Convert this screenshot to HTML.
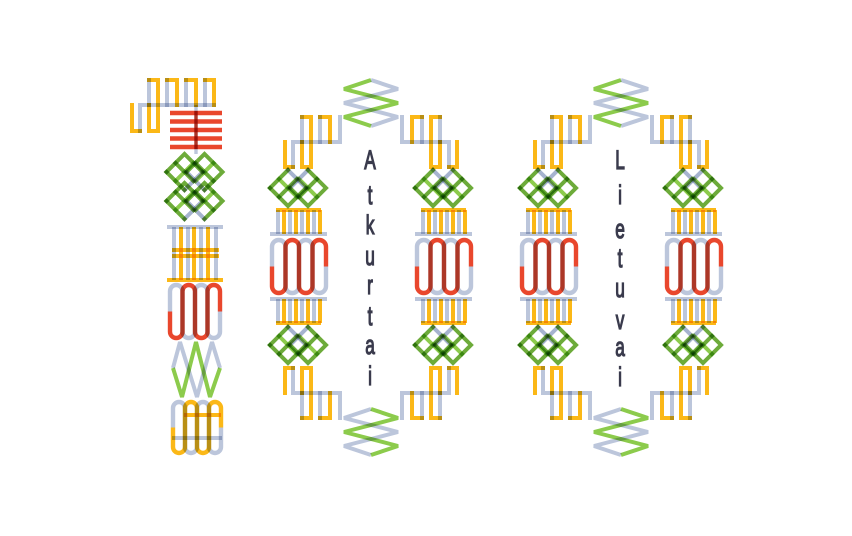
<!DOCTYPE html>
<html><head><meta charset="utf-8">
<style>
html,body{margin:0;padding:0;background:#fff;}
svg{display:block}
path,polyline{mix-blend-mode:multiply;fill:none;stroke-width:4;stroke-linecap:square;stroke-linejoin:miter}
.y{stroke:#fbb817}
.g{stroke:#bcc6db}
.r{stroke:#e9472d}
.gl{stroke:#8ccb4c}
.gd{stroke:#6dab3a}
.gb{stroke:#a6b3cf}
.s{stroke-width:4.4;stroke-linecap:butt}
.k{stroke-width:4}
.st{stroke-width:4.4;stroke-linecap:butt}
.cb{stroke-linecap:butt}
.z{stroke-linecap:butt;stroke-miterlimit:2}
text{font-family:"Liberation Sans",sans-serif;font-size:27px;fill:#3a3b4d;stroke:#3a3b4d;stroke-width:1.3}
</style></head>
<body>
<svg width="852" height="536" viewBox="0 0 852 536" xmlns="http://www.w3.org/2000/svg">
<defs>
  <g id="zig">
    <polyline class="gl z" points="371,80 344,89 398,103 344,117 371,126"/>
    <polyline class="g z" points="371,80 398,89 344,103 398,117 371,126"/>
  </g>
  <g id="knot">
    <path class="gd k" d="M-28,0 L-10,-18"/>
    <path class="gb k" d="M-10,-18 L8,0"/>
    <path class="gd k" d="M8,0 L-10,18 L-28,0"/>
    <path class="gb k" d="M-8,0 L10,-18"/>
    <path class="gd k" d="M10,-18 L28,0 L10,18 L-8,0"/>
    <path class="gl k" d="M-19,-9 L-1,9 M1,-9 L19,9"/>
    <path class="gd k" d="M-1,-9 L-19,9 M19,-9 L1,9"/>
  </g>
  <g id="side">
    <path class="y cb" d="M276,210 H321 M276,323 H321"/>
    <path class="g cb" d="M270,234 H327 M270,299 H327"/>
    <path class="g cb" d="M278,210 V234 M290,210 V234 M302,210 V234 M314,210 V234 M278,299 V323 M290,299 V323 M302,299 V323 M314,299 V323"/>
    <path class="y cb" d="M284,210 V234 M296,210 V234 M308,210 V234 M320,210 V234 M284,299 V323 M296,299 V323 M308,299 V323 M320,299 V323"/>
    <path class="g s" d="M272,266.5 V246.75 A6.75,6.75 0 0 1 285.5,246.75 V286.25 A6.75,6.75 0 0 0 299,286.25 V246.75 A6.75,6.75 0 0 1 312.5,246.75 V286.25 A6.75,6.75 0 0 0 326,286.25 V266.5"/>
    <path class="r s" d="M272,266.5 V286.25 A6.75,6.75 0 0 0 285.5,286.25 V246.75 A6.75,6.75 0 0 1 299,246.75 V286.25 A6.75,6.75 0 0 0 312.5,286.25 V246.75 A6.75,6.75 0 0 1 326,246.75 V266.5"/>
  </g>
  <g id="mea">
    <path class="y" d="M285,142 V167 H293"/>
    <path class="y" d="M302,142 V167 H311 V117 H302"/>
    <path class="y" d="M320,117 H330 V142"/>
    <path class="g" d="M293,167 V142 H340 V117"/>
    <path class="g" d="M302,117 V142 M320,117 V142"/>
  </g>
  <g id="zero">
    <use href="#zig"/>
    <use href="#zig" transform="rotate(180 371 267.5)"/>
    <use href="#mea"/>
    <use href="#mea" transform="matrix(-1,0,0,1,742,0)"/>
    <use href="#mea" transform="matrix(1,0,0,-1,0,535)"/>
    <use href="#mea" transform="matrix(-1,0,0,-1,742,535)"/>
    <use href="#knot" transform="translate(298,188)"/>
    <use href="#knot" transform="translate(298,345)"/>
    <use href="#knot" transform="translate(443,188)"/>
    <use href="#knot" transform="translate(443,345)"/>
    <use href="#side"/>
    <use href="#side" transform="translate(145,0)"/>
  </g>
</defs>

<g>
  <path class="y" d="M132,105 V131 H140"/>
  <path class="y" d="M149,105 V131 H158 V80 H149"/>
  <path class="y" d="M167,80 H177 V105"/>
  <path class="y" d="M186,80 H196 V105"/>
  <path class="y" d="M205,80 H214 V105"/>
  <path class="g" d="M140,131 V105 H214"/>
  <path class="g" d="M149,80 V105 M167,80 V105 M186,80 V105 M205,80 V105"/>
  <path class="r st" d="M170,113 H222 M170,121.5 H222 M170,130 H222 M170,138.5 H222 M170,147 H222"/>
  <path class="g cb" d="M196,105 V154" style="stroke-width:3.4"/>
  <path class="r cb" d="M196,111 V149" style="stroke-width:3.4"/>
  <use href="#knot" transform="translate(194.5,172) scale(1,-1)"/>
  <use href="#knot" transform="translate(194.5,201) scale(1,-1)"/>
  <path class="g cb" d="M167,227 H223"/>
  <path class="y cb" d="M172,250 H219 M172,256 H219"/>
  <path class="y cb" d="M167,280 H223"/>
  <path class="g cb" d="M174,227 V280 M188,227 V280 M201,227 V280 M216,227 V280"/>
  <path class="y cb" d="M181,227 V280 M194,227 V280 M208,227 V280"/>
  <path class="g s" d="M170,311.5 V291.25 A6.25,6.25 0 0 1 182.5,291.25 V331.75 A6.25,6.25 0 0 0 195,331.75 V291.25 A6.25,6.25 0 0 1 207.5,291.25 V331.75 A6.25,6.25 0 0 0 220,331.75 V311.5"/>
  <path class="r s" d="M170,311.5 V331.75 A6.25,6.25 0 0 0 182.5,331.75 V291.25 A6.25,6.25 0 0 1 195,291.25 V331.75 A6.25,6.25 0 0 0 207.5,331.75 V291.25 A6.25,6.25 0 0 1 220,291.25 V311.5"/>
  <polyline class="gl z" points="173,368 182,397 196,342 210,397 220,368"/>
  <polyline class="g z" points="173,368 180,342 197,397 212,342 220,368"/>
  <path class="y cb" d="M184,415 H221"/>
  <path class="g cb" d="M172,438 H222"/>
  <path class="g s" d="M173,427.5 V408 A6,6 0 0 1 185,408 V447 A6,6 0 0 0 197,447 V408 A6,6 0 0 1 209,408 V447 A6,6 0 0 0 221,447 V427.5"/>
  <path class="y s" d="M173,427.5 V447 A6,6 0 0 0 185,447 V408 A6,6 0 0 1 197,408 V447 A6,6 0 0 0 209,447 V408 A6,6 0 0 1 221,408 V427.5"/>
</g>

<use href="#zero"/>
<use href="#zero" transform="translate(250,0)"/>

<g text-anchor="middle">
  <text transform="translate(370,169) scale(0.64,1)">A</text>
  <text transform="translate(370,204) scale(0.64,1)">t</text>
  <text transform="translate(370,234) scale(0.64,1)">k</text>
  <text transform="translate(370,265) scale(0.64,1)">u</text>
  <text transform="translate(370,294) scale(0.64,1)">r</text>
  <text transform="translate(370,325) scale(0.64,1)">t</text>
  <text transform="translate(370,354) scale(0.64,1)">a</text>
  <text transform="translate(370,385) scale(0.64,1)">i</text>

  <text transform="translate(620,169) scale(0.64,1)">L</text>
  <text transform="translate(620,204) scale(0.64,1)">i</text>
  <text transform="translate(620,238) scale(0.64,1)">e</text>
  <text transform="translate(620,267) scale(0.64,1)">t</text>
  <text transform="translate(620,297) scale(0.64,1)">u</text>
  <text transform="translate(620,329) scale(0.64,1)">v</text>
  <text transform="translate(620,356) scale(0.64,1)">a</text>
  <text transform="translate(620,386) scale(0.64,1)">i</text>
</g>
</svg>
</body></html>
